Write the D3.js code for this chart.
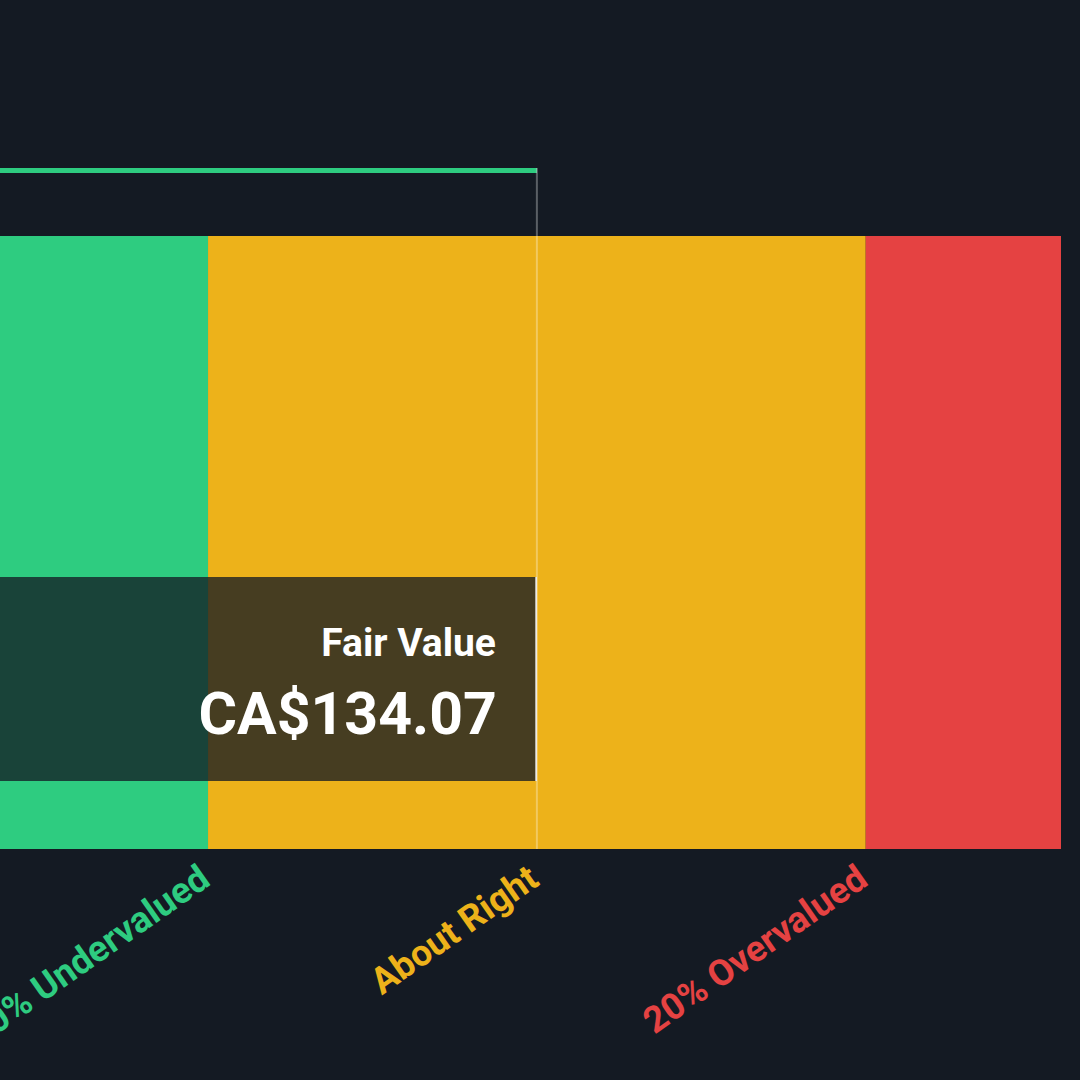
<!DOCTYPE html>
<html>
<head>
<meta charset="utf-8">
<script src="https://cdn.jsdelivr.net/npm/d3@7"></script>
<style>
  html, body { margin: 0; padding: 0; background: #141a23; }
  svg { display: block; }
</style>
</head>
<body>
<svg id="chart" width="1080" height="1080"></svg>
<script>
// ---- data ----
const fairValue = 134.07;
const bandNames = ["20% Undervalued", "About Right", "20% Overvalued"];
const bandStarts = [90.3, 107.26, 160.88];
const bandEnds = [107.26, 160.88, 176.8];
const bandColors = ["#2ecc80", "#edb21a", "#e54242"];
const labelValues = [107.26, 134.07, 160.88];
const fairValueLabel = "Fair Value";
const fairValueText = "CA$134.07";

// ---- layout ----
const W = 1080, H = 1080;
const svg = d3.select("#chart");
svg.append("rect").attr("width", W).attr("height", H).attr("fill", "#141a23");

const x = d3.scaleLinear().domain([90.3, 176.8]).range([0, 1061]);
const barTop = 236, barBottom = 849;

const bands = bandNames.map((n, i) => ({ name: n, start: bandStarts[i], end: bandEnds[i], color: bandColors[i], labelAt: labelValues[i] }));

// bands
svg.append("g").selectAll("rect").data(bands).join("rect")
  .attr("x", d => x(d.start))
  .attr("y", barTop)
  .attr("width", d => x(d.end) - x(d.start))
  .attr("height", barBottom - barTop)
  .attr("fill", d => d.color);

// top line (green) up to fair value
svg.append("rect")
  .attr("x", x(90.3))
  .attr("y", 168)
  .attr("width", x(fairValue) - x(90.3))
  .attr("height", 5)
  .attr("fill", "#2ecc80");

// vertical fair value line
svg.append("rect")
  .attr("x", x(fairValue) - 1)
  .attr("y", 168)
  .attr("width", 2)
  .attr("height", barBottom - 168)
  .attr("fill", "rgba(255,255,255,0.3)");

// overlay box
const boxTop = 577, boxBottom = 781;
svg.append("rect")
  .attr("x", x(90.3))
  .attr("y", boxTop)
  .attr("width", x(fairValue) - x(90.3))
  .attr("height", boxBottom - boxTop)
  .attr("fill", "#141a23")
  .attr("fill-opacity", 0.77);
svg.append("rect")
  .attr("x", x(fairValue) - 1.5)
  .attr("y", boxTop)
  .attr("width", 1.5)
  .attr("height", boxBottom - boxTop)
  .attr("fill", "#ffffff");

// texts in box
svg.append("text")
  .attr("x", x(fairValue) - 41)
  .attr("y", 656)
  .attr("text-anchor", "end")
  .attr("font-family", "Roboto, sans-serif")
  .attr("font-weight", 700)
  .attr("font-size", 39)
  .attr("fill", "#ffffff")
  .text(fairValueLabel);
svg.append("text")
  .attr("x", x(fairValue) - 40)
  .attr("y", 734)
  .attr("text-anchor", "end")
  .attr("font-family", "Roboto, sans-serif")
  .attr("font-weight", 700)
  .attr("font-size", 59)
  .attr("fill", "#ffffff")
  .text(fairValueText);

// rotated band labels
svg.append("g").selectAll("text").data(bands).join("text")
  .attr("transform", d => `translate(${x(d.labelAt) + 4},${884}) rotate(-35)`)
  .attr("text-anchor", "end")
  .attr("font-family", "Roboto, sans-serif")
  .attr("font-weight", 700)
  .attr("font-size", 36.5)
  .attr("fill", d => d.color)
  .text(d => d.name);
</script>
</body>
</html>
